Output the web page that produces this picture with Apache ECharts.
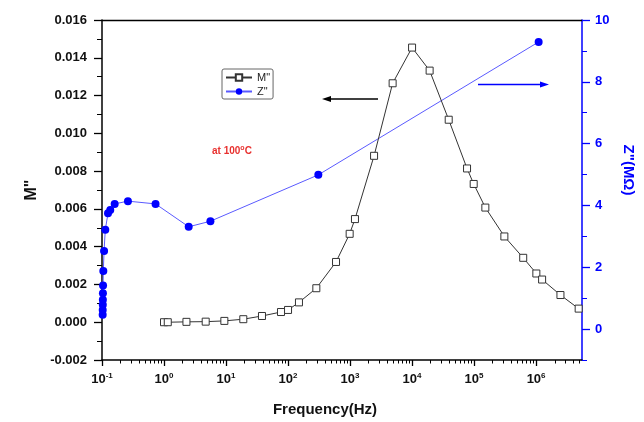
<!DOCTYPE html>
<html><head><meta charset="utf-8">
<script src="https://cdn.jsdelivr.net/npm/echarts@6/dist/echarts.min.js"></script>
<style>html,body{margin:0;padding:0;background:#fff}#c{width:644px;height:422px}</style>
</head><body><div id="c"></div>
<script>
// M'' (modulus) vs frequency
const mFreq = [1.0, 1.15, 2.3, 4.7, 9.4, 19, 38, 77, 100, 150, 286, 594, 986, 1200, 2440, 4860, 10000, 19200, 39000, 77000, 98600, 152000, 308000, 620000, 1010000, 1250000, 2470000, 4860000];
const mValues = [0.0000, 0.0000, 0.00002, 0.00003, 0.00007, 0.00016, 0.00033, 0.00054, 0.00065, 0.00105, 0.0018, 0.00319, 0.00468, 0.00546, 0.00881, 0.01265, 0.01454, 0.01332, 0.01072, 0.00814, 0.00732, 0.00607, 0.00454, 0.00341, 0.00258, 0.00226, 0.00144, 0.00072];
// Z'' (MOhm) vs frequency
const zFreq = [0.1025, 0.1027, 0.103, 0.1032, 0.1035, 0.104, 0.105, 0.108, 0.113, 0.125, 0.136, 0.16, 0.262, 0.73, 2.5, 5.6, 308, 1100000];
const zValues = [0.46, 0.62, 0.79, 0.95, 1.16, 1.41, 1.88, 2.53, 3.21, 3.75, 3.85, 4.05, 4.14, 4.05, 3.31, 3.49, 4.99, 9.29];
// tick labels
const xMajorTicks = [0.1, 1, 10, 100, 1e3, 1e4, 1e5, 1e6];
const zMajorTicks = [0, 2, 4, 6, 8, 10];
const zMinorTicks = [-1, 1, 3, 5, 7, 9];
const seriesNames = ['M"', 'Z"'];

const xMinorTicks = [];
for (let n = -1; n <= 6; n++) {
  for (let k = 2; k <= 9; k++) {
    const v = k * Math.pow(10, n);
    if (v <= 5.5e6) xMinorTicks.push(v);
  }
}
const FF = 'Liberation Sans, Arial, sans-serif';
const chart = echarts.init(document.getElementById('c'));
const xBase = { type: 'log', logBase: 10, min: 0.1, max: 5.5e6, gridIndex: 0, splitLine: { show: false } };
chart.setOption({
  animation: false,
  textStyle: { fontFamily: FF },
  grid: { left: 102, right: 62, top: 20, bottom: 61, containLabel: false },
  legend: {
    data: seriesNames, orient: 'vertical', left: 222, top: 69,
    itemWidth: 26, itemHeight: 8, itemGap: 3,
    textStyle: { fontSize: 11, color: '#222', fontFamily: FF },
    borderColor: '#666', borderWidth: 1, borderRadius: 2, padding: [3, 3, 2, 3]
  },
  xAxis: [
    Object.assign({}, xBase, {
      position: 'bottom',
      axisLine: { show: true, onZero: false, lineStyle: { color: '#000', width: 1.5 } },
      axisTick: { show: true, inside: false, length: 6, customValues: xMajorTicks, lineStyle: { color: '#000', width: 1.3 } },
      axisLabel: {
        customValues: xMajorTicks, margin: 12,
        formatter: v => '{b|10}{s|' + Math.round(Math.log10(v)) + '}',
        rich: {
          b: { fontSize: 13, fontWeight: 'bold', color: '#111', fontFamily: FF },
          s: { fontSize: 8, fontWeight: 'bold', color: '#111', fontFamily: FF, verticalAlign: 'bottom', padding: [0, 0, 7, 0] }
        }
      },
      name: 'Frequency(Hz)', nameLocation: 'middle', nameGap: 42,
      nameTextStyle: { fontSize: 15, fontWeight: 'bold', color: '#111', fontFamily: FF, padding: [0, 34, 0, 0] }
    }),
    Object.assign({}, xBase, {
      position: 'bottom',
      axisLine: { show: false, onZero: false },
      axisTick: { show: true, inside: false, length: 3.5, customValues: xMinorTicks, lineStyle: { color: '#000', width: 1 } },
      axisLabel: { show: false }
    }),
    Object.assign({}, xBase, {
      position: 'top',
      axisLine: { show: true, onZero: false, lineStyle: { color: '#000', width: 1.3 } },
      axisTick: { show: false }, axisLabel: { show: false }
    })
  ],
  yAxis: [
    {
      type: 'value', position: 'left', min: -0.002, max: 0.016, interval: 0.002,
      axisLine: { show: true, onZero: false, lineStyle: { color: '#000', width: 1.5 } },
      axisTick: { show: true, inside: false, length: 8, lineStyle: { color: '#000', width: 1.3 } },
      minorTick: { show: true, splitNumber: 2, length: 5, lineStyle: { color: '#000', width: 1 } },
      splitLine: { show: false },
      axisLabel: { formatter: v => v.toFixed(3), fontSize: 13, fontWeight: 'bold', color: '#111', margin: 15 },
      name: 'M"', nameLocation: 'middle', nameGap: 62,
      nameTextStyle: { fontSize: 16, fontWeight: 'bold', color: '#111' }
    },
    {
      type: 'value', position: 'right', min: -1, max: 10,
      axisLine: { show: true, onZero: false, lineStyle: { color: '#0000ff', width: 1.5 } },
      axisTick: { show: true, inside: false, length: 8, customValues: zMajorTicks, lineStyle: { color: '#0000ff', width: 1.3 } },
      splitLine: { show: false },
      axisLabel: { customValues: zMajorTicks, fontSize: 13, fontWeight: 'bold', color: '#0000ff', margin: 13 },
      name: 'Z"(MΩ)', nameLocation: 'middle', nameGap: 29, nameRotate: -90,
      nameTextStyle: { fontSize: 15, fontWeight: 'bold', color: '#0000ff', padding: [10, 40, 0, 0] }
    },
    {
      type: 'value', position: 'right', min: -1, max: 10,
      axisLine: { show: false, onZero: false },
      axisTick: { show: true, inside: false, length: 5, customValues: zMinorTicks, lineStyle: { color: '#0000ff', width: 1 } },
      splitLine: { show: false },
      axisLabel: { show: false }
    }
  ],
  series: [
    {
      name: seriesNames[0], type: 'line', xAxisIndex: 0, yAxisIndex: 0,
      data: mFreq.map((f, i) => [f, mValues[i]]),
      symbol: 'rect', symbolSize: 7,
      itemStyle: { color: '#fff', borderColor: '#333', borderWidth: 1 },
      lineStyle: { color: '#333', width: 1 }, z: 3
    },
    {
      name: seriesNames[1], type: 'line', xAxisIndex: 0, yAxisIndex: 1,
      data: zFreq.map((f, i) => [f, zValues[i]]),
      symbol: 'circle', symbolSize: 8,
      itemStyle: { color: '#0000ff' },
      lineStyle: { color: '#5a5aff', width: 1 }, z: 2
    }
  ],
  graphic: [
    {
      type: 'text', left: 212, top: 145,
      style: {
        text: 'at 100{s|o}C', fill: '#e8312f', fontSize: 10, fontWeight: 'bold', fontFamily: FF,
        rich: { s: { fontSize: 7, fontWeight: 'bold', fill: '#e8312f', verticalAlign: 'bottom', padding: [0, 0, 5, 0] } }
      }
    },
    { type: 'line', shape: { x1: 378, y1: 99, x2: 329, y2: 99 }, style: { stroke: '#000', lineWidth: 1.5 } },
    { type: 'polygon', shape: { points: [[322, 99], [331, 96], [331, 102]] }, style: { fill: '#000' } },
    { type: 'line', shape: { x1: 478, y1: 84.5, x2: 542, y2: 84.5 }, style: { stroke: '#0000ff', lineWidth: 1.5 } },
    { type: 'polygon', shape: { points: [[549, 84.5], [540, 81.5], [540, 87.5]] }, style: { fill: '#0000ff' } }
  ]
});
</script></body></html>
